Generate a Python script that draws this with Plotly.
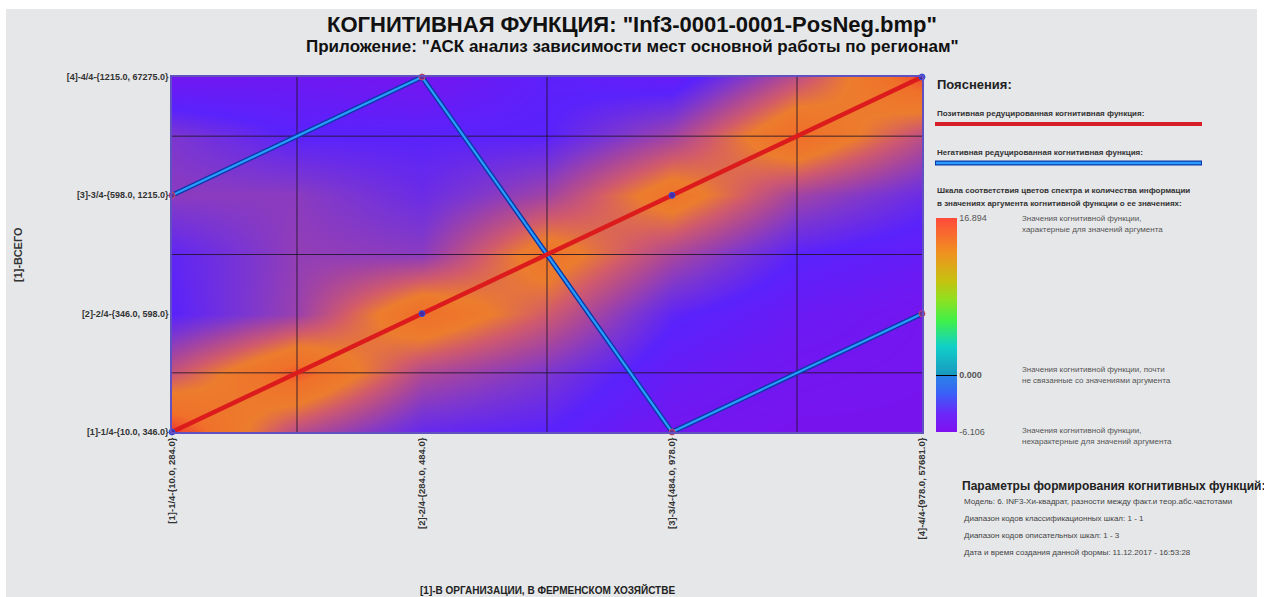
import plotly.graph_objects as go

# ---- data -------------------------------------------------------------
x_codes = [1, 2, 3, 4]
y_codes = [1, 2, 3, 4]
x_labels = ["[1]-1/4-{10.0, 284.0}", "[2]-2/4-{284.0, 484.0}",
            "[3]-3/4-{484.0, 978.0}", "[4]-4/4-{978.0, 57681.0}"]
y_labels = ["[1]-1/4-{10.0, 346.0}", "[2]-2/4-{346.0, 598.0}",
            "[3]-3/4-{598.0, 1215.0}", "[4]-4/4-{1215.0, 67275.0}"]

# reduced cognitive functions: value of the scale for every argument value
positive_y = [1, 2, 3, 4]
negative_y = [3, 4, 1, 2]

# background intensity grid (nodes every half step, rows bottom -> top)
field_x = [1, 1.5, 2, 2.5, 3, 3.5, 4]
field_y = [1, 1.5, 2, 2.5, 3, 3.5, 4]
field_z = [
    [1.00, 0.50, 0.26, 0.22, 0.06, 0.03, 0.03],
    [0.55, 0.93, 0.48, 0.34, 0.14, 0.06, 0.04],
    [0.22, 0.42, 0.86, 0.58, 0.24, 0.12, 0.05],
    [0.24, 0.40, 0.38, 0.80, 0.46, 0.22, 0.15],
    [0.38, 0.38, 0.28, 0.44, 0.80, 0.44, 0.28],
    [0.34, 0.22, 0.22, 0.22, 0.44, 0.88, 0.52],
    [0.08, 0.10, 0.05, 0.20, 0.14, 0.52, 0.96],
]

info_min, info_max = -6.106, 16.894

# ---- geometry helpers (pixel -> paper) -------------------------------
W, H = 1264, 597
L, R, T, B = 172, 922, 77, 432


def px_x(px):
    return (px - L) / (R - L)


def px_y(py):
    return (B - py) / (B - T)


FONT = "Liberation Sans, Arial, sans-serif"

field_scale = [
    [0.00, "#7c12ec"], [0.12, "#6a1af4"], [0.22, "#5a22fc"],
    [0.34, "#7c36d0"], [0.46, "#a8469c"], [0.58, "#d05a6c"],
    [0.70, "#ec7c2e"], [0.85, "#f0702a"], [1.00, "#f03a30"],
]

z0 = (0 - info_min) / (info_max - info_min)
spectrum = [
    [0.0, "#8010f0"], [0.086, "#6a28f8"], [0.18, "#3a60f8"],
    [z0 - 0.012, "#2a80e8"], [z0 - 0.006, "#2a80e8"], [z0 - 0.006, "#000000"],
    [z0 + 0.002, "#000000"], [z0 + 0.002, "#1898c0"],
    [0.40, "#10d0c8"], [0.52, "#40f048"], [0.62, "#90e020"],
    [0.71, "#c8c010"], [0.84, "#f09020"], [1.0, "#ff4a3a"],
]

fig = go.Figure()

fig.add_trace(go.Heatmap(
    x=field_x, y=field_y, z=field_z, zmin=0, zmax=1,
    colorscale=field_scale, zsmooth="best", showscale=False,
    hoverinfo="skip"))

# grid lines halfway between the argument / value codes
mid_x = [(a + b) / 2 for a, b in zip(x_codes[:-1], x_codes[1:])]
mid_y = [(a + b) / 2 for a, b in zip(y_codes[:-1], y_codes[1:])]
gx, gy = [], []
for m in mid_x:
    gx += [m, m, None]
    gy += [y_codes[0], y_codes[-1], None]
for m in mid_y:
    gx += [x_codes[0], x_codes[-1], None]
    gy += [m, m, None]
fig.add_trace(go.Scatter(x=gx, y=gy, mode="lines",
                         line=dict(color="rgba(30,20,40,0.85)", width=1),
                         hoverinfo="skip"))

# negative function: dark rim + light core
fig.add_trace(go.Scatter(x=x_codes, y=negative_y, mode="lines",
                         line=dict(color="#0a3aa8", width=5),
                         cliponaxis=False, hoverinfo="skip"))
fig.add_trace(go.Scatter(x=x_codes, y=negative_y, mode="lines+markers",
                         line=dict(color="#2a9cff", width=2.2),
                         marker=dict(size=6, color="#6a3090",
                                     line=dict(color="#d04868", width=1)),
                         cliponaxis=False, hoverinfo="skip"))

# positive function
fig.add_trace(go.Scatter(x=x_codes, y=positive_y, mode="lines+markers",
                         line=dict(color="#dc1c1c", width=4.5),
                         marker=dict(size=6, color="#4a2aa0",
                                     line=dict(color="#3050e0", width=1)),
                         cliponaxis=False, hoverinfo="skip"))

# spectrum scale shown in the explanation panel
fig.add_trace(go.Scatter(
    x=[x_codes[0]], y=[y_codes[0]], mode="markers", hoverinfo="skip",
    marker=dict(size=1, opacity=0, color=[0], cmin=info_min, cmax=info_max,
                colorscale=spectrum, showscale=True,
                colorbar=dict(
                    x=px_x(936), xanchor="left", y=px_y(325), yanchor="middle",
                    len=214, lenmode="pixels", thickness=21,
                    thicknessmode="pixels", outlinewidth=0, xpad=0, ypad=0,
                    tickmode="array", tickvals=[info_min, 0, info_max],
                    ticktext=[f"{info_min:.3f}", "<b>0.000</b>",
                              f"{info_max:.3f}"],
                    ticks="", tickfont=dict(size=9, color="#555555",
                                            family=FONT)))))

fig.update_xaxes(range=[x_codes[0], x_codes[-1]], tickmode="array",
                 tickvals=x_codes, ticktext=[f"<b>{t}</b>" for t in x_labels],
                 tickangle=-90,
                 showgrid=False, zeroline=False, showline=True, mirror=True,
                 linecolor="#6050c0", linewidth=1.5,
                 tickfont=dict(size=9.5, color="#333333", family=FONT))
fig.update_yaxes(range=[y_codes[0], y_codes[-1]], tickmode="array",
                 tickvals=y_codes, ticktext=[f"<b>{t}</b>" for t in y_labels],
                 showgrid=False, zeroline=False, showline=True, mirror=True,
                 linecolor="#6050c0", linewidth=1.5,
                 tickfont=dict(size=9, color="#333333", family=FONT))

ann = []


def note(text, px, py, size, bold=False, color="#333333", anchor="left",
         angle=0):
    if bold:
        text = f"<b>{text}</b>"
    ann.append(dict(text=text, x=px_x(px), y=px_y(py), xref="paper",
                    yref="paper", xanchor=anchor, yanchor="middle",
                    showarrow=False, textangle=angle,
                    font=dict(size=size, color=color, family=FONT)))


note('КОГНИТИВНАЯ ФУНКЦИЯ: "Inf3-0001-0001-PosNeg.bmp"', 632, 25, 22,
     True, "#111111", "center")
note('Приложение: "АСК анализ зависимости мест основной работы по регионам"',
     632, 47, 17, True, "#111111", "center")
note("[1]-ВСЕГО", 18, 255, 11, True, "#333333", "center", -90)
note("[1]-В ОРГАНИЗАЦИИ, В ФЕРМЕНСКОМ ХОЗЯЙСТВЕ", 547, 590, 10, True,
     "#222222", "center")

note("Пояснения:", 935, 85, 13, True, "#222222")
note("Позитивная редуцированная когнитивная функция:", 935, 113, 8, True)
note("Негативная редуцированная когнитивная функция:", 935, 152, 8, True)
note("Шкала соответствия цветов спектра и количества информации", 935, 190,
     8, True)
note("в значениях аргумента когнитивной функции о ее значениях:", 935, 203,
     8, True)

desc = "#555555"
note("Значения когнитивной функции,", 1020, 218, 8, color=desc)
note("характерные для значений аргумента", 1020, 229, 8, color=desc)
note("Значения когнитивной функции, почти", 1020, 369, 8, color=desc)
note("не связанные со значениями аргумента", 1020, 380, 8, color=desc)
note("Значения когнитивной функции,", 1020, 430, 8, color=desc)
note("нехарактерные для значений аргумента", 1020, 441, 8, color=desc)

note("Параметры формирования когнитивных функций:", 960, 486, 12, True,
     "#222222")
note("Модель: 6. INF3-Хи-квадрат, разности между факт.и теор.абс.частотами",
     962, 501, 8, color="#444444")
note("Диапазон кодов классификационных шкал: 1 - 1", 962, 518, 8,
     color="#444444")
note("Диапазон кодов описательных шкал: 1 - 3", 962, 535, 8, color="#444444")
note("Дата и время создания данной формы: 11.12.2017 - 16:53:28", 962, 552,
     8, color="#444444")

shapes = [
    dict(type="rect", xref="paper", yref="paper", x0=px_x(6), x1=px_x(1257),
         y0=px_y(597), y1=px_y(9), fillcolor="#e6e7e9", line=dict(width=0),
         layer="below"),
    dict(type="line", xref="paper", yref="paper", x0=px_x(935),
         x1=px_x(1202), y0=px_y(124), y1=px_y(124),
         line=dict(color="#d81e28", width=4)),
    dict(type="line", xref="paper", yref="paper", x0=px_x(935),
         x1=px_x(1202), y0=px_y(163), y1=px_y(163),
         line=dict(color="#0a3aa8", width=5)),
    dict(type="line", xref="paper", yref="paper", x0=px_x(936),
         x1=px_x(1201), y0=px_y(163), y1=px_y(163),
         line=dict(color="#2a9cff", width=2.5)),
]

fig.update_layout(width=W, height=H,
                  margin=dict(l=L, r=W - R, t=T, b=H - B, pad=0),
                  paper_bgcolor="#ffffff", plot_bgcolor="#e6e7e9",
                  showlegend=False, annotations=ann, shapes=shapes,
                  font=dict(family=FONT))

fig.write_html("out.html")
